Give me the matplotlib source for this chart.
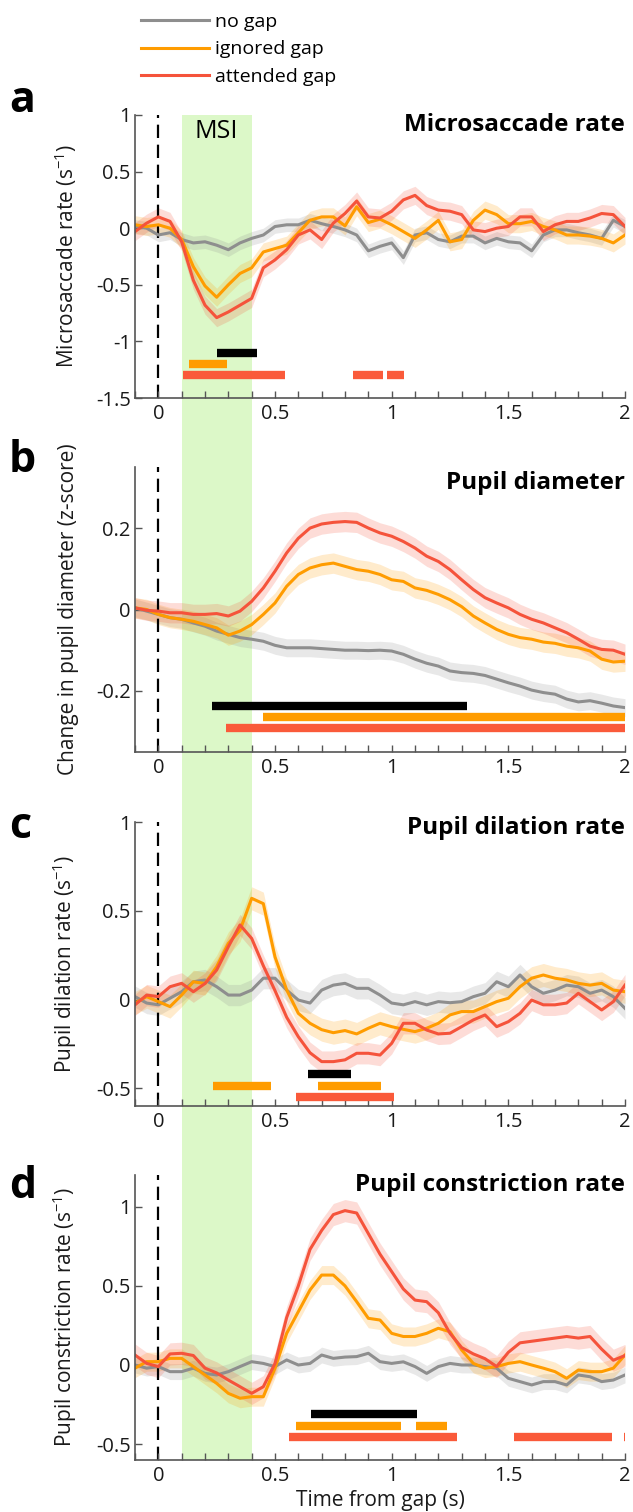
import numpy as np
import matplotlib
matplotlib.use("Agg")
import matplotlib.pyplot as plt
from matplotlib.patches import Rectangle
from matplotlib.ticker import FormatStrFormatter, MultipleLocator
from matplotlib.transforms import blended_transform_factory

plt.rcParams['font.family'] = ['Open Sans', 'DejaVu Sans']
plt.rcParams['mathtext.default'] = 'regular'

# time axis (s), sampled every 50 ms from -0.1 to 2
t = np.round(np.arange(-0.1, 2.0001, 0.05), 2)

# condition names and colours
labels = ['no gap', 'ignored gap', 'attended gap']
line_colors = ['#8e8e8e', '#ff9c00', '#f5533b']
bar_colors = ['#000000', '#ff9c00', '#fa5a3a']

# a: microsaccade rate
ms_nogap = [0.015, 0.0, -0.06, -0.04, -0.1, -0.13, -0.12, -0.15, -0.19, -0.13, -0.09,
            -0.06, 0.015, 0.03, 0.03, 0.07, 0.04, 0.015, -0.015, -0.06, -0.2, -0.16,
            -0.13, -0.26, -0.06, -0.04, -0.1, -0.12, -0.07, -0.07, -0.13, -0.09, -0.12,
            -0.13, -0.2, -0.06, -0.015, -0.015, -0.04, -0.06, -0.09, 0.07, 0.015]
ms_ignored = [0.03, 0.015, 0.03, 0.0, -0.1, -0.34, -0.51, -0.61, -0.5, -0.4, -0.35,
              -0.21, -0.18, -0.15, -0.04, 0.07, 0.1, 0.1, 0.02, 0.19, 0.05, 0.08,
              0.03, -0.03, -0.09, -0.015, 0.07, -0.12, -0.1, 0.07, 0.16, 0.12, 0.04,
              0.04, 0.06, 0.015, -0.015, -0.06, -0.06, -0.07, -0.09, -0.13, -0.06]
ms_attended = [-0.03, 0.045, 0.1, 0.06, -0.12, -0.46, -0.68, -0.79, -0.74, -0.68, -0.62,
               -0.35, -0.28, -0.19, -0.06, -0.015, -0.1, 0.045, 0.13, 0.24, 0.1, 0.09,
               0.15, 0.25, 0.29, 0.2, 0.16, 0.15, 0.12, -0.015, -0.03, 0.0, 0.015,
               0.1, 0.1, -0.03, 0.03, 0.06, 0.06, 0.09, 0.13, 0.12, 0.015]
ms_sem = [0.06, 0.08, 0.08]

# b: pupil diameter
pd_nogap = [0.004, -0.004, -0.012, -0.02, -0.024, -0.033, -0.041, -0.053, -0.061, -0.069,
            -0.073, -0.078, -0.088, -0.094, -0.094, -0.094, -0.096, -0.098, -0.1, -0.1,
            -0.101, -0.1, -0.102, -0.11, -0.122, -0.132, -0.139, -0.151, -0.155, -0.157,
            -0.162, -0.171, -0.18, -0.188, -0.198, -0.204, -0.208, -0.22, -0.227, -0.224,
            -0.23, -0.237, -0.241]
pd_ignored = [0.004, 0.0, -0.012, -0.02, -0.024, -0.029, -0.037, -0.045, -0.063, -0.053,
              -0.037, -0.012, 0.016, 0.057, 0.086, 0.102, 0.11, 0.114, 0.106, 0.098,
              0.094, 0.086, 0.073, 0.069, 0.053, 0.047, 0.037, 0.024, 0.007, -0.016,
              -0.033, -0.049, -0.061, -0.069, -0.073, -0.08, -0.083, -0.09, -0.094,
              -0.102, -0.122, -0.129, -0.127]
pd_attended = [0.004, -0.002, -0.004, -0.008, -0.008, -0.012, -0.012, -0.01, -0.016, -0.004,
               0.02, 0.053, 0.094, 0.139, 0.175, 0.2, 0.21, 0.214, 0.216, 0.214,
               0.2, 0.188, 0.18, 0.167, 0.151, 0.131, 0.118, 0.098, 0.073, 0.049,
               0.029, 0.016, 0.004, -0.012, -0.024, -0.033, -0.045, -0.057, -0.073,
               -0.09, -0.098, -0.1, -0.11]
pd_sem = [0.022, 0.025, 0.025]

# c: pupil dilation rate
dil_nogap = [0.016, -0.02, -0.03, 0.007, 0.044, 0.1, 0.11, 0.072, 0.025, 0.025, 0.053,
             0.12, 0.12, 0.053, -0.003, -0.02, 0.053, 0.081, 0.091, 0.063, 0.063, 0.025,
             -0.02, -0.03, -0.012, -0.03, -0.012, -0.018, -0.012, 0.016, 0.035, 0.1,
             0.072, 0.138, 0.072, 0.035, 0.053, 0.081, 0.072, 0.035, 0.053, 0.016, -0.05]
dil_ignored = [-0.02, 0.016, -0.012, -0.04, 0.025, 0.1, 0.09, 0.185, 0.316, 0.39, 0.57,
               0.54, 0.24, 0.054, -0.078, -0.134, -0.17, -0.187, -0.175, -0.194, -0.162,
               -0.134, -0.153, -0.168, -0.181, -0.162, -0.134, -0.087, -0.068, -0.068,
               -0.04, -0.012, 0.007, 0.072, 0.12, 0.138, 0.12, 0.11, 0.091, 0.081, 0.091,
               0.053, 0.044]
dil_attended = [-0.03, 0.025, 0.016, 0.072, 0.091, 0.044, 0.09, 0.166, 0.297, 0.42, 0.344,
                0.19, 0.05, -0.1, -0.21, -0.3, -0.35, -0.35, -0.34, -0.303, -0.303,
                -0.313, -0.247, -0.134, -0.134, -0.172, -0.194, -0.19, -0.153, -0.115,
                -0.087, -0.153, -0.125, -0.078, -0.003, -0.03, -0.03, -0.02, 0.035,
                -0.012, -0.059, -0.012, 0.081]
dil_sem = [0.06, 0.065, 0.06]

# d: pupil constriction rate
con_nogap = [0.0, -0.02, -0.01, -0.042, -0.042, -0.02, -0.053, -0.063, -0.042, -0.01, 0.021,
             0.01, -0.01, 0.032, 0.0, 0.01, 0.063, 0.042, 0.05, 0.053, 0.074, 0.021,
             0.01, 0.02, -0.01, -0.053, -0.01, 0.01, 0.0, 0.0, -0.01, -0.02, -0.084,
             -0.105, -0.126, -0.105, -0.105, -0.126, -0.063, -0.074, -0.105, -0.095, -0.063]
con_ignored = [-0.02, 0.021, 0.021, 0.042, 0.042, -0.01, -0.063, -0.116, -0.179, -0.21, -0.2,
               -0.2, -0.02, 0.2, 0.337, 0.474, 0.568, 0.568, 0.5, 0.4, 0.295, 0.284,
               0.2, 0.18, 0.18, 0.2, 0.232, 0.21, 0.095, 0.01, -0.02, -0.01, 0.01,
               0.021, 0.0, -0.02, -0.042, -0.084, -0.032, -0.042, -0.042, -0.02, 0.063]
con_attended = [0.063, 0.01, -0.01, 0.07, 0.074, 0.06, -0.02, -0.05, -0.095, -0.137, -0.179,
                -0.137, 0.01, 0.3, 0.5, 0.73, 0.85, 0.95, 0.975, 0.96, 0.83, 0.7,
                0.59, 0.48, 0.41, 0.4, 0.33, 0.2, 0.11, 0.07, 0.04, -0.01, 0.08,
                0.14, 0.15, 0.16, 0.17, 0.18, 0.17, 0.18, 0.1, 0.03, 0.06]
con_sem = [0.05, 0.06, 0.07]

# significance bars: (start, end) segments per row (black, orange, red)
ms_sig = [[(0.253, 0.424)], [(0.133, 0.296)], [(0.107, 0.543), (0.833, 0.961), (0.981, 1.053)]]
ms_sig_y = [-1.1, -1.2, -1.3]
pd_sig = [[(0.229, 1.324)], [(0.45, 2.0)], [(0.29, 2.0)]]
pd_sig_y = [-0.237, -0.265, -0.292]
dil_sig = [[(0.64, 0.826)], [(0.236, 0.483), (0.683, 0.954)], [(0.589, 1.011)]]
dil_sig_y = [-0.421, -0.485, -0.549]
con_sig = [[(0.654, 1.11)], [(0.59, 1.039), (1.104, 1.237)],
           [(0.561, 1.28), (1.524, 1.946), (1.996, 2.0)]]
con_sig_y = [-0.312, -0.383, -0.455]

msi_window = (0.1, 0.4)

panels = [
    dict(letter='a', title='Microsaccade rate', ylabel='Microsaccade rate (s$^{-1}$)',
         series=[ms_nogap, ms_ignored, ms_attended], sem=ms_sem,
         sig=ms_sig, sig_y=ms_sig_y, ylim=(-1.5, 1), yticks=[-1.5, -1, -0.5, 0, 0.5, 1],
         title_y=0.965, letter_y=1 - 101 / 1512),
    dict(letter='b', title='Pupil diameter', ylabel='Change in pupil diameter (z-score)',
         series=[pd_nogap, pd_ignored, pd_attended], sem=pd_sem,
         sig=pd_sig, sig_y=pd_sig_y, ylim=(-0.35, 0.35), yticks=[-0.2, 0, 0.2],
         title_y=0.944, letter_y=1 - 460 / 1512),
    dict(letter='c', title='Pupil dilation rate', ylabel='Pupil dilation rate (s$^{-1}$)',
         series=[dil_nogap, dil_ignored, dil_attended], sem=dil_sem,
         sig=dil_sig, sig_y=dil_sig_y, ylim=(-0.6, 1), yticks=[-0.5, 0, 0.5, 1],
         title_y=0.979, letter_y=1 - 826 / 1512),
    dict(letter='d', title='Pupil constriction rate', ylabel='Pupil constriction rate (s$^{-1}$)',
         series=[con_nogap, con_ignored, con_attended], sem=con_sem,
         sig=con_sig, sig_y=con_sig_y, ylim=(-0.6, 1.2), yticks=[-0.5, 0, 0.5, 1],
         title_y=0.965, letter_y=1 - 1187 / 1512),
]

# axes boxes in pixels (top, bottom) of the 633 x 1512 figure
W, H = 633, 1512
left_px, right_px = 135, 625
boxes = [(115, 398), (467, 752), (822, 1106), (1175, 1460)]

fig = plt.figure(figsize=(W / 100, H / 100), dpi=100)
axes = []
for (top, bottom) in boxes:
    ax = fig.add_axes([left_px / W, 1 - bottom / H, (right_px - left_px) / W, (bottom - top) / H])
    ax.set_facecolor('none')
    axes.append(ax)

for ax, p in zip(axes, panels):
    for vals, sem, col, lab in zip(p['series'], p['sem'], line_colors, labels):
        vals = np.array(vals)
        ax.fill_between(t, vals - sem, vals + sem, color=col, alpha=0.2, lw=0)
        ax.plot(t, vals, color=col, lw=2.2, label=lab)

    for segs, y, col in zip(p['sig'], p['sig_y'], bar_colors):
        for (s, e) in segs:
            ax.plot([s, e], [y, y], color=col, lw=6, solid_capstyle='butt')

    ax.axvline(0, color='k', lw=1.6, ls=(0, (6, 3)), zorder=1)

    ax.set_xlim(-0.1, 2)
    ax.set_ylim(*p['ylim'])
    ax.set_xticks([0, 0.5, 1, 1.5, 2])
    ax.xaxis.set_minor_locator(MultipleLocator(0.1))
    ax.set_yticks(p['yticks'])
    ax.xaxis.set_major_formatter(FormatStrFormatter('%g'))
    ax.yaxis.set_major_formatter(FormatStrFormatter('%g'))
    ax.tick_params(which='both', direction='in', length=5, width=1, color='#555555',
                   labelsize=14.5, labelcolor='#1a1a1a')
    ax.tick_params(axis='x', pad=4)
    ax.tick_params(axis='y', pad=3)
    for side in ['top', 'right']:
        ax.spines[side].set_visible(False)
    for side in ['left', 'bottom']:
        ax.spines[side].set_color('#555555')
        ax.spines[side].set_linewidth(1.2)

    ax.set_ylabel(p['ylabel'], fontsize=15, color='#1a1a1a')
    ax.yaxis.set_label_coords(-0.115, 0.5)
    ax.text(1.0, p['title_y'], p['title'], transform=ax.transAxes, ha='right', va='center',
            fontsize=17.5, fontweight='bold')
    fig.text(0.014, p['letter_y'], p['letter'], ha='left', va='center',
             fontsize=31, fontweight='bold')

axes[-1].set_xlabel('Time from gap (s)', fontsize=15, color='#1a1a1a', labelpad=3)

# MSI window: one green band through all four panels
msi_trans = blended_transform_factory(axes[-1].transData, fig.transFigure)
fig.add_artist(Rectangle((msi_window[0], 1 - boxes[-1][1] / H),
                         msi_window[1] - msi_window[0],
                         (boxes[-1][1] - boxes[0][0]) / H,
                         transform=msi_trans, color='#dcf8c8', lw=0, zorder=-10))
axes[0].text(np.mean(msi_window), 0.85, 'MSI', ha='center', va='center', fontsize=18)

handles = axes[0].get_lines()[0:3]
fig.legend(handles, labels, loc='upper left', bbox_to_anchor=(131 / W, 1 - 3 / H),
           frameon=False, fontsize=14, handlelength=3.5, handletextpad=0.3,
           labelspacing=0.5, borderpad=0.0)

fig.savefig('out.png', dpi=100)
